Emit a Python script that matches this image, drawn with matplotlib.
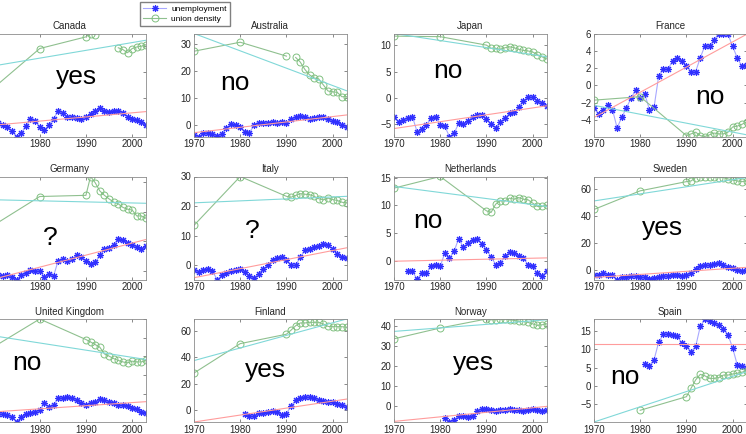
import matplotlib.pyplot as plt
import numpy as np

plt.rcParams['font.family'] = ['Liberation Sans', 'DejaVu Sans']

nan = np.nan

countries = ['Canada', 'Australia', 'Japan', 'France',
             'Germany', 'Italy', 'Netherlands', 'Sweden',
             'United Kingdom', 'Finland', 'Norway', 'Spain']
verdicts = ['yes', 'no', 'no', 'no', '?', '?', 'no', 'yes', 'no', 'yes', 'yes', 'no']

# union density: observed in 1970, 1980 and every year 1990-2003
union_years = [1970, 1980] + list(range(1990, 2004))
union = {
    'Canada': [14.0, 29.2, 33.7, 35.0, 34.6, nan, nan, nan, nan, 29.5, 28.8, 27.6, 29.2, 29.8, 30.1, 30.7],
    'Australia': [27.2, 30.5, 25.4, nan, 24.9, 23.2, 20.5, 18.5, 17.4, 17.0, 14.8, 12.6, 12.3, 12.1, 10.5, 10.5],
    'Japan': [11.7, 11.6, 10.0, 9.4, 9.4, 9.2, 9.5, 9.7, 9.5, 9.2, 9.0, 8.9, 8.7, 8.2, 7.8, 7.4],
    'France': [-1.7, -1.3, -5.8, -5.6, -5.4, -5.8, -5.9, -5.7, -5.5, -5.6, -5.6, -5.4, -4.8, -4.7, -4.5, -4.2],
    'Germany': [15.4, 25.2, 25.6, 32.0, 29.9, 27.1, 25.6, 24.4, 23.3, 22.7, 21.5, 20.9, 20.6, 18.6, 18.6, 17.8],
    'Italy': [13.5, 30.0, 23.3, 23.0, 23.6, 24.2, 24.0, 23.9, 23.3, 22.5, 22.1, 22.7, 22.2, 21.9, 21.3, 21.1],
    'Netherlands': [13.1, 15.2, 9.0, 8.7, 10.2, 10.8, 10.8, 11.3, 11.1, 11.4, 11.1, 11.0, 10.4, 9.8, 9.8, 10.0],
    'Sweden': [44.9, 58.7, 65.5, 66.0, 68.5, 69.3, 69.3, 69.3, 68.8, 68.5, 68.5, 67.5, 66.8, 66.0, 65.5, 66.0],
    'United Kingdom': [35.0, 50.0, 39.0, 37.7, 36.3, 34.9, 31.3, 30.1, 28.8, 27.8, 27.0, 26.5, 27.4, 27.0, 27.0, 27.8],
    'Finland': [28.1, 50.3, 57.4, 60.5, 63.8, 65.9, 65.9, 66.4, 66.4, 66.4, 65.1, 63.3, 63.1, 63.1, 63.1, 62.6],
    'Norway': [33.8, 39.2, 43.7, 43.3, 43.3, 43.7, 43.7, 43.3, 43.0, 42.5, 42.5, 42.0, 41.3, 40.5, 40.8, 41.3],
    'Spain': [nan, -6.6, -2.9, -0.6, 1.7, 3.2, 2.8, 2.1, 2.1, 2.3, 3.0, 3.0, 3.3, 3.5, 3.8, 4.1],
}

# unemployment: yearly values up to 2003, first year per country
unemp_start = {'Canada': 1970, 'Australia': 1970, 'Japan': 1970, 'France': 1970,
               'Germany': 1970, 'Italy': 1970, 'Netherlands': 1973, 'Sweden': 1970,
               'United Kingdom': 1970, 'Finland': 1981, 'Norway': 1981, 'Spain': 1981}
unemp = {
    'Canada': [0.4, 0.4, -0.1, -0.9, -2.7, -4.7, -3.5, -0.6, 2.0, 1.2, -1.1, -2.2, -0.1, 2.1, 5.3, 4.5, 2.7,
               2.7, 2.5, 2.2, 2.7, 4.0, 5.1, 6.1, 5.1, 4.9, 5.3, 5.3, 4.5, 3.0, 2.2, 1.5, 0.7, -0.1],
    'Australia': [-3.5, -4.1, -2.7, -2.9, -3.2, -3.9, -3.2, -1.1, 0.5, 0.1, -0.7, -2.3, -2.7, 0.1, 1.0, 0.7, 1.0,
                  1.1, 0.7, 1.3, 1.0, 2.3, 2.9, 3.4, 2.9, 2.2, 2.6, 3.2, 2.9, 2.3, 1.7, 1.3, 0.1, -0.5],
    'Japan': [-3.6, -4.6, -4.1, -3.8, -3.6, -6.4, -5.8, -5.1, -3.8, -3.6, -5.1, -5.4, -7.3, -6.7, -4.8, -4.9, -4.3,
              -3.6, -3.2, -3.3, -4.0, -4.9, -5.6, -4.6, -3.8, -2.9, -2.7, -1.7, -0.6, 0.2, 0.2, -0.5, -1.0, -1.5],
    'France': [-2.6, -3.3, -2.8, -2.3, -2.8, -4.9, -3.7, -2.6, -1.5, -0.5, -1.4, -1.0, -2.8, -2.5, 1.1, 1.9, 1.9,
               2.8, 3.2, 2.8, 2.3, 1.6, 1.6, 3.2, 4.6, 4.5, 5.3, 6.0, 6.0, 5.9, 4.5, 3.2, 2.2, 2.4],
    'Germany': [-1.5, -1.5, -1.8, -1.6, -2.2, -3.0, -1.6, -0.9, 0.3, -0.1, -0.1, -2.1, -1.0, -1.8, 3.4, 4.0, 3.4,
                4.0, 5.2, 4.6, 3.4, 2.3, 2.8, 5.2, 7.3, 7.7, 8.7, 10.8, 10.4, 9.5, 8.7, 8.1, 7.5, 8.4],
    'Italy': [-1.5, -2.2, -1.7, -1.1, -2.0, -4.8, -3.4, -2.6, -2.0, -1.5, -1.1, -2.2, -3.7, -4.2, -2.8, -1.1, 0.0,
              1.9, 2.6, 2.8, 1.7, 0.0, 0.0, 2.8, 5.1, 5.6, 6.2, 6.4, 7.1, 6.7, 5.6, 3.7, 2.8, 2.6],
    'Netherlands': [-1.8, -1.9, -3.4, -2.2, -2.3, -0.9, -0.7, -1.0, 1.4, 0.5, 1.7, 4.0, 2.4, 3.2, 3.8, 3.9,
                    3.1, 2.0, 0.7, -0.7, -0.4, 0.8, 1.5, 1.4, 0.9, 0.4, -0.7, -0.9, -2.3, -2.8, -1.8],
    'Sweden': [-3.8, -3.3, -2.5, -3.3, -3.8, -7.0, -5.5, -5.0, -4.3, -4.5, -5.0, -5.5, -6.3, -5.8, -5.0, -4.5, -4.3,
               -3.8, -3.8, -4.3, -3.8, -2.5, 0.5, 3.3, 3.5, 3.8, 4.3, 5.5, 3.8, 2.5, 1.3, 0.0, -0.8, 0.0],
    'United Kingdom': [-0.2, -0.7, -1.1, -1.6, -2.5, -5.2, -2.5, -1.1, -0.2, 0.3, 1.0, 5.1, 2.8, 3.9, 7.8, 7.8, 8.2,
                       7.8, 6.4, 5.0, 3.9, 5.1, 5.7, 6.9, 6.4, 5.7, 5.1, 3.9, 3.7, 3.4, 2.5, 1.6, 0.3, -0.2],
    'Finland': [-2.6, -4.3, -4.6, -2.0, -1.8, -1.3, -0.8, -1.3, -3.3, -2.6, 3.3, 7.7, 8.9, 10.2, 9.7, 8.9,
                7.7, 6.9, 6.4, 5.9, 4.6, 3.8, 2.6],
    'Norway': [-5.8, -7.8, -6.7, -4.7, -5.0, -5.3, -4.7, -2.5, -1.2, -1.2, -1.7, -2.2, -1.7, -2.0, -1.2, -1.7,
               -2.0, -2.2, -1.7, -1.3, -1.7, -2.2, -2.0],
    'Spain': [6.1, 5.6, 7.2, 12.0, 14.1, 14.1, 13.9, 13.6, 11.7, 10.8, 9.4, 10.8, 16.3, 18.3, 17.7, 17.2,
              16.7, 15.6, 14.0, 10.4, 5.8, 5.5, 5.0],
}

# linear trends, value at 1970 and at 2003
trend_years = [1970, 2003]
union_trend = {'Canada': [22.5, 32.4], 'Australia': [33.7, 12.7], 'Japan': [12.2, 7.8], 'France': [-2.3, -5.7],
               'Germany': [24.1, 22.9], 'Italy': [21.1, 23.3], 'Netherlands': [13.4, 9.8], 'Sweden': [51.2, 68.5],
               'United Kingdom': [41.0, 28.3], 'Finland': [37.5, 68.9], 'Norway': [37.5, 43.3], 'Spain': [-9.8, 3.9]}
unemp_trend = {'Canada': [-0.35, 4.9], 'Australia': [-2.7, 3.8], 'Japan': [-5.8, -1.5], 'France': [-3.7, 5.9],
               'Germany': [-2.9, 10.6], 'Italy': [-4.2, 5.9], 'Netherlands': [-0.1, 0.5], 'Sweden': [-5.5, 2.0],
               'United Kingdom': [0.2, 5.7], 'Finland': [-8.9, 8.4], 'Norway': [-7.5, 0.0], 'Spain': [11.6, 11.6]}

yticks = {'Canada': [0, 10, 20, 30], 'Australia': [0, 10, 20, 30], 'Japan': [-5, 0, 5, 10],
          'France': [-4, -2, 0, 2, 4, 6], 'Germany': [0, 10, 20, 30], 'Italy': [0, 10, 20, 30],
          'Netherlands': [0, 5, 10, 15], 'Sweden': [0, 20, 40, 60], 'United Kingdom': [0, 10, 20, 30, 40, 50],
          'Finland': [0, 20, 40, 60], 'Norway': [0, 10, 20, 30, 40], 'Spain': [-5, 0, 5, 10, 15]}
xticks = [1970, 1980, 1990, 2000]

# layout (pixels); outer columns run past the picture edges
W, H = 746, 434
col_left = [-6.5, 194, 394, 594]
row_top = [33.5, 176.5, 319]
ax_w, ax_h = 152.5, 103
verdict_pos = [(0.545, 0.58), (0.27, 0.52), (0.355, 0.635), (0.76, 0.385),
               (0.37, 0.40), (0.38, 0.475), (0.22, 0.57), (0.45, 0.50),
               (0.22, 0.57), (0.47, 0.50), (0.52, 0.57), (0.20, 0.44)]

fig = plt.figure(figsize=(W / 100, H / 100), dpi=100)

handles = None
for i, name in enumerate(countries):
    r, c = divmod(i, 4)
    ax = fig.add_axes([col_left[c] / W, (H - row_top[r] - ax_h) / H, ax_w / W, ax_h / H])

    uy = list(range(unemp_start[name], 2004))
    l1, = ax.plot(uy, unemp[name], color='#a8a8ff', lw=0.8, marker=(8, 2, 0), ms=5,
                  mec='#3030ff', mew=0.8)
    l2, = ax.plot(union_years, union[name], color='#8fc08f', lw=0.8, marker='o', ms=5,
                  mfc='none', mec='#80c080', mew=0.7)
    ax.plot(trend_years, unemp_trend[name], color='#ff9c9c', lw=0.8)
    ax.plot(trend_years, union_trend[name], color='#80d8d8', lw=0.8)
    if handles is None:
        handles = [l1, l2]

    vals = np.concatenate([unemp[name], union[name], unemp_trend[name], union_trend[name]])
    ax.set_xlim(1970, 2003)
    ax.set_ylim(np.nanmin(vals), np.nanmax(vals))
    ax.set_xticks(xticks)
    ax.set_yticks(yticks[name])
    if c == 0:
        # these labels fall outside the cropped picture
        ax.set_xticklabels([''] + [str(t) for t in xticks[1:]])
        ax.set_yticklabels([])

    ax.tick_params(direction='in', length=2.5, width=0.5, top=True, right=True,
                   labelsize=7, pad=2, colors='0.35', labelcolor='0.15')
    for s in ax.spines.values():
        s.set_color('0.55')
        s.set_linewidth(0.6)
    ax.set_title(name, fontsize=7, pad=3, color='0.15')

    ax.text(verdict_pos[i][0], verdict_pos[i][1], verdicts[i], transform=ax.transAxes,
            ha='center', va='center', fontsize=19, color='black')

fig.legend(handles, ['unemployment', 'union density'], loc='upper left',
           bbox_to_anchor=(140 / W, 1 - 2 / H), fontsize=6, frameon=True, fancybox=False,
           edgecolor='0.5', framealpha=1, handlelength=2.8, borderpad=0.35,
           labelspacing=0.25, handletextpad=0.6, borderaxespad=0)

fig.savefig('out.png', dpi=100)
